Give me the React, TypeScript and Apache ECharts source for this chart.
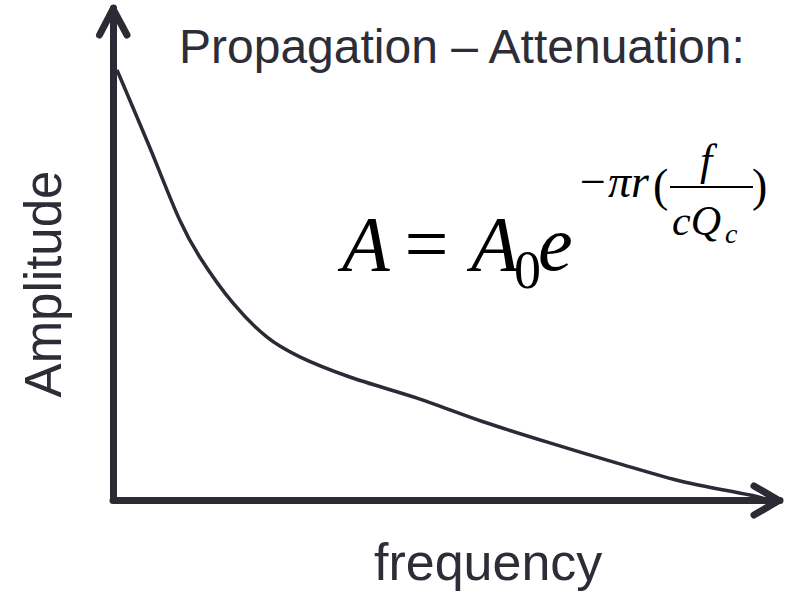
import React, { useEffect, useRef } from "react";
import * as echarts from "echarts";

const frequency = [0.6, 5.5, 10.0, 13.0, 18.0, 23.1, 28.0, 35.5, 45.6, 55.5, 65.5, 75.6, 85.5, 95.5, 98.5];
const amplitude = [87.4, 71.7, 56.9, 49.4, 40.0, 33.1, 29.1, 25.0, 20.7, 15.9, 11.6, 7.5, 3.7, 1.0, 0];

const titleText = "Propagation – Attenuation:";
const xLabel = "frequency";
const yLabel = "Amplitude";

const INK = "#2b2a35";
const SERIF = "'Liberation Serif', 'Times New Roman', serif";
const SANS = "'Liberation Sans', Arial, sans-serif";

function txt(text: string, x: number, y: number, size: number, opts: any = {}) {
  const align = opts.align || "left";
  return {
    type: "text",
    x,
    y,
    rotation: opts.rotation || 0,
    silent: true,
    style: {
      text,
      fontSize: size,
      fontFamily: opts.family || SERIF,
      fontStyle: opts.italic ? "italic" : "normal",
      fill: opts.fill || "#000",
      align,
      verticalAlign: "middle",
      textAlign: align,
      textVerticalAlign: "middle",
    },
  };
}

export default function App() {
  const ref = useRef<HTMLDivElement>(null);
  useEffect(() => {
    if (!ref.current) return;
    const chart = echarts.init(ref.current, undefined, { renderer: "svg" });
    const data = frequency.map((f, i) => [f, amplitude[i]]);
    chart.setOption({
      animation: false,
      backgroundColor: "#ffffff",
      grid: { left: 113, right: 5, top: 8, bottom: 93 },
      xAxis: {
        type: "value",
        min: 0,
        max: 100,
        axisLine: { show: true, lineStyle: { color: INK, width: 7 } },
        axisTick: { show: false },
        axisLabel: { show: false },
        splitLine: { show: false },
      },
      yAxis: {
        type: "value",
        min: 0,
        max: 100,
        axisLine: { show: true, lineStyle: { color: INK, width: 7 } },
        axisTick: { show: false },
        axisLabel: { show: false },
        splitLine: { show: false },
      },
      series: [
        {
          type: "line",
          data,
          smooth: 0.3,
          showSymbol: false,
          symbol: "none",
          lineStyle: { color: INK, width: 3.5 },
          z: 1,
        },
      ],
      graphic: [
        {
          type: "polyline",
          silent: true,
          shape: { points: [[99.5, 35], [113, 9], [127, 35]] },
          style: { stroke: INK, lineWidth: 7, fill: "none", lineCap: "round", lineJoin: "round" },
        },
        {
          type: "polyline",
          silent: true,
          shape: { points: [[754, 486], [779, 500.5], [754, 515]] },
          style: { stroke: INK, lineWidth: 7, fill: "none", lineCap: "round", lineJoin: "round" },
        },
        txt(titleText, 179, 46.4, 48, { family: SANS, fill: "#2d2d37" }),
        txt(xLabel, 374, 561.8, 52, { family: SANS, fill: "#2d2d37" }),
        txt(yLabel, 43, 284, 51, { family: SANS, fill: "#2d2d37", align: "center", rotation: Math.PI / 2 }),
        txt("A", 342, 243.7, 78, { italic: true }),
        txt("=", 404.4, 243.7, 78),
        txt("A", 471, 243.7, 78, { italic: true }),
        txt("0", 514, 269.8, 54),
        txt("e", 538, 243.7, 78, { italic: true }),
        txt("−πr", 577, 181.5, 46, { italic: true }),
        txt("(", 653, 185.5, 46),
        {
          type: "line",
          silent: true,
          shape: { x1: 670, y1: 187, x2: 753, y2: 187 },
          style: { stroke: "#000", lineWidth: 2 },
        },
        txt("f", 706, 160.8, 44, { italic: true, align: "center" }),
        txt("cQ", 672, 220.8, 42, { italic: true }),
        txt("c", 725, 233.5, 28, { italic: true }),
        txt(")", 752, 185.5, 46),
      ],
    });
    return () => chart.dispose();
  }, []);
  return <div ref={ref} style={{ width: 785, height: 593, position: "absolute", left: 0, top: 0 }} />;
}
